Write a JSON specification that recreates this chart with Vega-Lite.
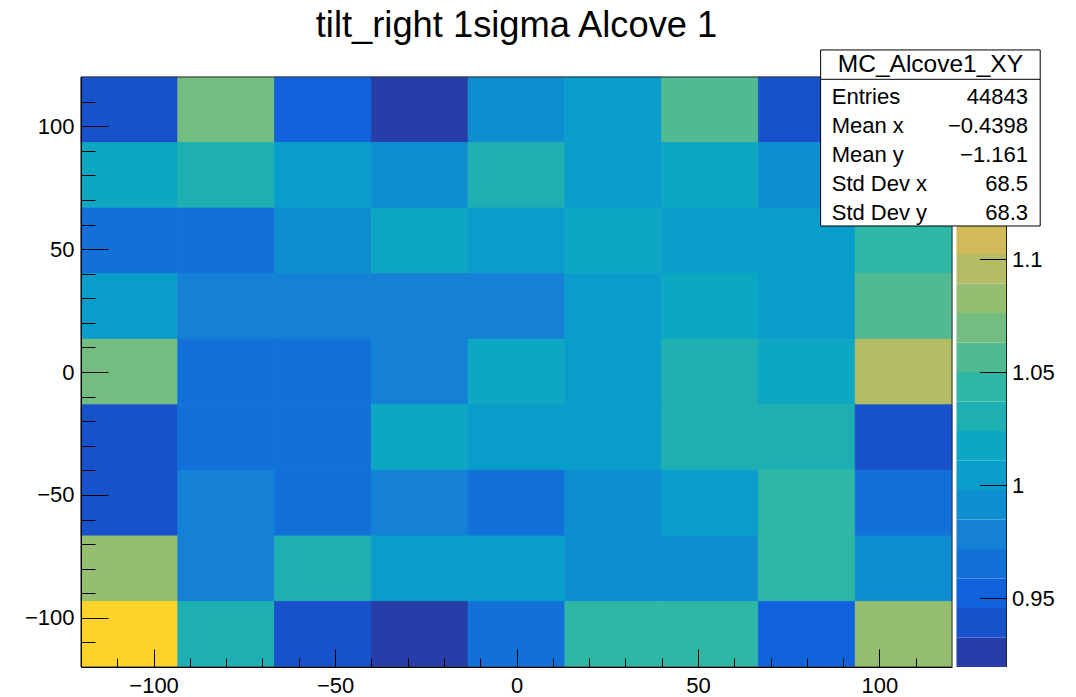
{
  "$schema": "https://vega.github.io/schema/vega-lite/v6.json",
  "width": 871,
  "height": 590,
  "autosize": {"type": "none"},
  "padding": {"left": 81, "top": 77, "right": 124, "bottom": 30},
  "background": "white",
  "config": {
    "view": {"stroke": null},
    "font": "Liberation Sans",
    "axis": {"grid": false, "labelFont": "Liberation Sans", "labelFontSize": 22, "labelColor": "black", "tickColor": "black", "domainColor": "black", "tickWidth": 1, "domainWidth": 1, "labelFlush": false, "labelOverlap": false, "labelBound": false}
  },
  "title": {"text": "tilt_right 1sigma Alcove 1", "font": "Liberation Sans", "fontSize": 36.3, "fontWeight": "normal", "color": "black", "anchor": "middle", "frame": "group", "baseline": "alphabetic", "offset": 11, "dy": 35},
  "datasets": {
    "cells": [
      {"x0":-120,"x1":-93.33,"y0":93.33,"y1":120,"v":0.9391},
      {"x0":-93.33,"x1":-66.67,"y0":93.33,"y1":120,"v":1.0702},
      {"x0":-66.67,"x1":-40,"y0":93.33,"y1":120,"v":0.9512},
      {"x0":-40,"x1":-13.33,"y0":93.33,"y1":120,"v":0.9248},
      {"x0":-13.33,"x1":13.33,"y0":93.33,"y1":120,"v":0.9905},
      {"x0":13.33,"x1":40,"y0":93.33,"y1":120,"v":1.0061},
      {"x0":40,"x1":66.67,"y0":93.33,"y1":120,"v":1.0573},
      {"x0":66.67,"x1":93.33,"y0":93.33,"y1":120,"v":0.9378},
      {"x0":93.33,"x1":120,"y0":93.33,"y1":120,"v":1.1803},

      {"x0":-120,"x1":-93.33,"y0":66.67,"y1":93.33,"v":1.0168},
      {"x0":-93.33,"x1":-66.67,"y0":66.67,"y1":93.33,"v":1.0297},
      {"x0":-66.67,"x1":-40,"y0":66.67,"y1":93.33,"v":1.0035},
      {"x0":-40,"x1":-13.33,"y0":66.67,"y1":93.33,"v":0.9921},
      {"x0":-13.33,"x1":13.33,"y0":66.67,"y1":93.33,"v":1.0312},
      {"x0":13.33,"x1":40,"y0":66.67,"y1":93.33,"v":1.0049},
      {"x0":40,"x1":66.67,"y0":66.67,"y1":93.33,"v":1.0183},
      {"x0":66.67,"x1":93.33,"y0":66.67,"y1":93.33,"v":0.9897},
      {"x0":93.33,"x1":120,"y0":66.67,"y1":93.33,"v":1.0588},

      {"x0":-120,"x1":-93.33,"y0":40,"y1":66.67,"v":0.9662},
      {"x0":-93.33,"x1":-66.67,"y0":40,"y1":66.67,"v":0.9641},
      {"x0":-66.67,"x1":-40,"y0":40,"y1":66.67,"v":0.9915},
      {"x0":-40,"x1":-13.33,"y0":40,"y1":66.67,"v":1.0192},
      {"x0":-13.33,"x1":13.33,"y0":40,"y1":66.67,"v":1.0027},
      {"x0":13.33,"x1":40,"y0":40,"y1":66.67,"v":1.0151},
      {"x0":40,"x1":66.67,"y0":40,"y1":66.67,"v":1.0073},
      {"x0":66.67,"x1":93.33,"y0":40,"y1":66.67,"v":1.0056},
      {"x0":93.33,"x1":120,"y0":40,"y1":66.67,"v":1.0452},

      {"x0":-120,"x1":-93.33,"y0":13.33,"y1":40,"v":1.0012},
      {"x0":-93.33,"x1":-66.67,"y0":13.33,"y1":40,"v":0.9776},
      {"x0":-66.67,"x1":-40,"y0":13.33,"y1":40,"v":0.9795},
      {"x0":-40,"x1":-13.33,"y0":13.33,"y1":40,"v":0.9769},
      {"x0":-13.33,"x1":13.33,"y0":13.33,"y1":40,"v":0.9801},
      {"x0":13.33,"x1":40,"y0":13.33,"y1":40,"v":1.0038},
      {"x0":40,"x1":66.67,"y0":13.33,"y1":40,"v":1.0177},
      {"x0":66.67,"x1":93.33,"y0":13.33,"y1":40,"v":1.0064},
      {"x0":93.33,"x1":120,"y0":13.33,"y1":40,"v":1.0552},

      {"x0":-120,"x1":-93.33,"y0":-13.33,"y1":13.33,"v":1.0683},
      {"x0":-93.33,"x1":-66.67,"y0":-13.33,"y1":13.33,"v":0.9637},
      {"x0":-66.67,"x1":-40,"y0":-13.33,"y1":13.33,"v":0.9658},
      {"x0":-40,"x1":-13.33,"y0":-13.33,"y1":13.33,"v":0.9787},
      {"x0":-13.33,"x1":13.33,"y0":-13.33,"y1":13.33,"v":1.0203},
      {"x0":13.33,"x1":40,"y0":-13.33,"y1":13.33,"v":1.0029},
      {"x0":40,"x1":66.67,"y0":-13.33,"y1":13.33,"v":1.0321},
      {"x0":66.67,"x1":93.33,"y0":-13.33,"y1":13.33,"v":1.0164},
      {"x0":93.33,"x1":120,"y0":-13.33,"y1":13.33,"v":1.0947},

      {"x0":-120,"x1":-93.33,"y0":-40,"y1":-13.33,"v":0.9402},
      {"x0":-93.33,"x1":-66.67,"y0":-40,"y1":-13.33,"v":0.9649},
      {"x0":-66.67,"x1":-40,"y0":-40,"y1":-13.33,"v":0.9671},
      {"x0":-40,"x1":-13.33,"y0":-40,"y1":-13.33,"v":1.0186},
      {"x0":-13.33,"x1":13.33,"y0":-40,"y1":-13.33,"v":1.0052},
      {"x0":13.33,"x1":40,"y0":-40,"y1":-13.33,"v":1.0018},
      {"x0":40,"x1":66.67,"y0":-40,"y1":-13.33,"v":1.0294},
      {"x0":66.67,"x1":93.33,"y0":-40,"y1":-13.33,"v":1.0336},
      {"x0":93.33,"x1":120,"y0":-40,"y1":-13.33,"v":0.9384},

      {"x0":-120,"x1":-93.33,"y0":-66.67,"y1":-40,"v":0.9371},
      {"x0":-93.33,"x1":-66.67,"y0":-66.67,"y1":-40,"v":0.9812},
      {"x0":-66.67,"x1":-40,"y0":-66.67,"y1":-40,"v":0.9665},
      {"x0":-40,"x1":-13.33,"y0":-66.67,"y1":-40,"v":0.9758},
      {"x0":-13.33,"x1":13.33,"y0":-66.67,"y1":-40,"v":0.9629},
      {"x0":13.33,"x1":40,"y0":-66.67,"y1":-40,"v":0.9936},
      {"x0":40,"x1":66.67,"y0":-66.67,"y1":-40,"v":1.0081},
      {"x0":66.67,"x1":93.33,"y0":-66.67,"y1":-40,"v":1.0447},
      {"x0":93.33,"x1":120,"y0":-66.67,"y1":-40,"v":0.9676},

      {"x0":-120,"x1":-93.33,"y0":-93.33,"y1":-66.67,"v":1.0834},
      {"x0":-93.33,"x1":-66.67,"y0":-93.33,"y1":-66.67,"v":0.9793},
      {"x0":-66.67,"x1":-40,"y0":-93.33,"y1":-66.67,"v":1.0289},
      {"x0":-40,"x1":-13.33,"y0":-93.33,"y1":-66.67,"v":1.0043},
      {"x0":-13.33,"x1":13.33,"y0":-93.33,"y1":-66.67,"v":1.0069},
      {"x0":13.33,"x1":40,"y0":-93.33,"y1":-66.67,"v":0.9909},
      {"x0":40,"x1":66.67,"y0":-93.33,"y1":-66.67,"v":0.9928},
      {"x0":66.67,"x1":93.33,"y0":-93.33,"y1":-66.67,"v":1.0419},
      {"x0":93.33,"x1":120,"y0":-93.33,"y1":-66.67,"v":0.9893},

      {"x0":-120,"x1":-93.33,"y0":-120,"y1":-93.33,"v":1.1487},
      {"x0":-93.33,"x1":-66.67,"y0":-120,"y1":-93.33,"v":1.0305},
      {"x0":-66.67,"x1":-40,"y0":-120,"y1":-93.33,"v":0.9411},
      {"x0":-40,"x1":-13.33,"y0":-120,"y1":-93.33,"v":0.9197},
      {"x0":-13.33,"x1":13.33,"y0":-120,"y1":-93.33,"v":0.9648},
      {"x0":13.33,"x1":40,"y0":-120,"y1":-93.33,"v":1.0428},
      {"x0":40,"x1":66.67,"y0":-120,"y1":-93.33,"v":1.0462},
      {"x0":66.67,"x1":93.33,"y0":-120,"y1":-93.33,"v":0.9531},
      {"x0":93.33,"x1":120,"y0":-120,"y1":-93.33,"v":1.0818}
    ],
    "bands": [
      {"lo":0.9196,"hi":0.93265,"mid":0.9261},
      {"lo":0.93265,"hi":0.9457,"mid":0.9392},
      {"lo":0.9457,"hi":0.95875,"mid":0.9522},
      {"lo":0.95875,"hi":0.9718,"mid":0.9653},
      {"lo":0.9718,"hi":0.98485,"mid":0.9783},
      {"lo":0.98485,"hi":0.9979,"mid":0.9914},
      {"lo":0.9979,"hi":1.01095,"mid":1.0044},
      {"lo":1.01095,"hi":1.024,"mid":1.0175},
      {"lo":1.024,"hi":1.03705,"mid":1.0305},
      {"lo":1.03705,"hi":1.0501,"mid":1.0436},
      {"lo":1.0501,"hi":1.06315,"mid":1.0566},
      {"lo":1.06315,"hi":1.0762,"mid":1.0697},
      {"lo":1.0762,"hi":1.08925,"mid":1.0827},
      {"lo":1.08925,"hi":1.1023,"mid":1.0958},
      {"lo":1.1023,"hi":1.11535,"mid":1.1088},
      {"lo":1.11535,"hi":1.1284,"mid":1.1219},
      {"lo":1.1284,"hi":1.14145,"mid":1.1349},
      {"lo":1.14145,"hi":1.1545,"mid":1.148},
      {"lo":1.1545,"hi":1.16755,"mid":1.161},
      {"lo":1.16755,"hi":1.1806,"mid":1.1741}
    ],
    "stats": [
      {"stat":"Entries","val":"44843"},
      {"stat":"Mean x","val":"−0.4398"},
      {"stat":"Mean y","val":"−1.161"},
      {"stat":"Std Dev x","val":"68.5"},
      {"stat":"Std Dev y","val":"68.3"}
    ],
    "header": [{"name":"MC_Alcove1_XY"}]
  },
  "resolve": {"scale": {"y": "independent"}, "axis": {"x": "independent", "y": "independent"}},
  "layer": [
    {
      "data": {"name": "cells"},
      "mark": {"type": "rect", "strokeWidth": 0.8},
      "encoding": {
        "x": {"field": "x0", "type": "quantitative", "scale": {"domain": [-120, 120], "nice": false, "zero": false},
              "axis": {"orient": "bottom", "title": null, "values": [-100, -50, 0, 50, 100], "tickSize": -18, "labelPadding": 26, "zindex": 1}},
        "x2": {"field": "x1"},
        "y": {"field": "y0", "type": "quantitative", "scale": {"domain": [-120, 120], "nice": false, "zero": false},
              "axis": {"orient": "left", "title": null, "values": [-100, -50, 0, 50, 100], "tickSize": -27, "labelPadding": 34, "zindex": 1}},
        "y2": {"field": "y1"},
        "color": {"field": "v", "type": "quantitative", "legend": null,
                  "scale": {"type": "quantize", "domain": [0.9196, 1.1806], "range": ["#273da8","#1751cb","#1063dc","#1271d9","#1480d6","#0e8ed1","#099dcc","#0da7c3","#1eafb3","#2eb7a4","#52ba91","#74bd80","#96be71","#b4bd65","#d1bb59","#e3c04a","#f5c63a","#fdd32a","#fbe81c","#f9fb0e"]}},
        "stroke": {"field": "v", "type": "quantitative", "legend": null,
                  "scale": {"type": "quantize", "domain": [0.9196, 1.1806], "range": ["#273da8","#1751cb","#1063dc","#1271d9","#1480d6","#0e8ed1","#099dcc","#0da7c3","#1eafb3","#2eb7a4","#52ba91","#74bd80","#96be71","#b4bd65","#d1bb59","#e3c04a","#f5c63a","#fdd32a","#fbe81c","#f9fb0e"]}}
      }
    },
    {
      "data": {"values": [{}]},
      "mark": {"type": "rect", "fill": "transparent", "stroke": "#333", "strokeWidth": 1},
      "encoding": {
        "x": {"datum": -120, "type": "quantitative", "scale": {"domain": [-120, 120], "nice": false, "zero": false}, "axis": null},
        "x2": {"datum": 120},
        "y": {"datum": -120, "type": "quantitative", "scale": {"domain": [-120, 120], "nice": false, "zero": false}, "axis": null},
        "y2": {"datum": 120}
      }
    },
    {
      "data": {"name": "cells"},
      "mark": {"type": "point", "opacity": 0},
      "encoding": {
        "x": {"field": "x0", "type": "quantitative", "scale": {"domain": [-120, 120], "nice": false, "zero": false},
              "axis": {"orient": "bottom", "title": null, "values": [-110, -90, -80, -70, -60, -40, -30, -20, -10, 10, 20, 30, 40, 60, 70, 80, 90, 110], "tickSize": -9, "labels": false, "domain": false, "zindex": 1}},
        "y": {"field": "y0", "type": "quantitative", "scale": {"domain": [-120, 120], "nice": false, "zero": false},
              "axis": {"orient": "left", "title": null, "values": [-110, -90, -80, -70, -60, -40, -30, -20, -10, 10, 20, 30, 40, 60, 70, 80, 90, 110], "tickSize": -14, "labels": false, "domain": false, "zindex": 1}}
      }
    },
    {
      "data": {"name": "bands"},
      "mark": {"type": "rect", "strokeWidth": 0},
      "encoding": {
        "x": {"datum": 121.24, "type": "quantitative", "scale": {"domain": [-120, 120], "nice": false, "zero": false}, "axis": null},
        "x2": {"datum": 135.02},
        "y": {"field": "lo", "type": "quantitative", "scale": {"domain": [0.9196, 1.1806], "nice": false, "zero": false},
              "axis": {"orient": "right", "title": null, "offset": 54.5, "values": [0.95, 1, 1.05, 1.1], "format": "~g", "tickSize": -27, "labelPadding": 32, "domain": false, "zindex": 1}},
        "y2": {"field": "hi"},
        "color": {"field": "mid", "type": "quantitative", "legend": null,
                  "scale": {"type": "quantize", "domain": [0.9196, 1.1806], "range": ["#273da8","#1751cb","#1063dc","#1271d9","#1480d6","#0e8ed1","#099dcc","#0da7c3","#1eafb3","#2eb7a4","#52ba91","#74bd80","#96be71","#b4bd65","#d1bb59","#e3c04a","#f5c63a","#fdd32a","#fbe81c","#f9fb0e"]}}
      }
    },
    {
      "data": {"values": [{}]},
      "mark": {"type": "rule", "color": "#222", "strokeWidth": 1},
      "encoding": {
        "x": {"datum": 135.02, "type": "quantitative", "scale": {"domain": [-120, 120], "nice": false, "zero": false}, "axis": null},
        "y": {"datum": 0.9196, "type": "quantitative", "scale": {"domain": [0.9196, 1.1806], "nice": false, "zero": false}, "axis": null},
        "y2": {"datum": 1.1806}
      }
    },
    {
      "data": {"values": [{}]},
      "mark": {"type": "rect", "fill": "white", "stroke": "black", "strokeWidth": 1},
      "encoding": {
        "x": {"datum": 83.8, "type": "quantitative", "scale": {"domain": [-120, 120], "nice": false, "zero": false}, "axis": null},
        "x2": {"datum": 144.3},
        "y": {"datum": 59.4, "type": "quantitative", "scale": {"domain": [-120, 120], "nice": false, "zero": false}, "axis": null},
        "y2": {"datum": 131}
      }
    },
    {
      "data": {"values": [{}]},
      "mark": {"type": "rule", "color": "black", "strokeWidth": 1},
      "encoding": {
        "x": {"datum": 83.8, "type": "quantitative", "scale": {"domain": [-120, 120], "nice": false, "zero": false}, "axis": null},
        "x2": {"datum": 144.3},
        "y": {"datum": 119.06, "type": "quantitative", "scale": {"domain": [-120, 120], "nice": false, "zero": false}, "axis": null}
      }
    },
    {
      "data": {"name": "header"},
      "mark": {"type": "text", "font": "Liberation Sans", "fontSize": 24.5, "align": "center", "baseline": "middle", "color": "black"},
      "encoding": {
        "x": {"datum": 114.05, "type": "quantitative", "scale": {"domain": [-120, 120], "nice": false, "zero": false}, "axis": null},
        "y": {"datum": 125, "type": "quantitative", "scale": {"domain": [-120, 120], "nice": false, "zero": false}, "axis": null},
        "text": {"field": "name"}
      }
    },
    {
      "data": {"name": "stats"},
      "mark": {"type": "text", "font": "Liberation Sans", "fontSize": 22, "align": "left", "baseline": "middle", "color": "black"},
      "encoding": {
        "x": {"datum": 86.86, "type": "quantitative", "scale": {"domain": [-120, 120], "nice": false, "zero": false}, "axis": null},
        "y": {"field": "stat", "type": "nominal", "sort": null, "scale": {"type": "point", "domain": ["Entries", "Mean x", "Mean y", "Std Dev x", "Std Dev y"], "range": [20, 136], "padding": 0}, "axis": null},
        "text": {"field": "stat"}
      }
    },
    {
      "data": {"name": "stats"},
      "mark": {"type": "text", "font": "Liberation Sans", "fontSize": 22, "align": "right", "baseline": "middle", "color": "black"},
      "encoding": {
        "x": {"datum": 140.95, "type": "quantitative", "scale": {"domain": [-120, 120], "nice": false, "zero": false}, "axis": null},
        "y": {"field": "stat", "type": "nominal", "sort": null, "scale": {"type": "point", "domain": ["Entries", "Mean x", "Mean y", "Std Dev x", "Std Dev y"], "range": [20, 136], "padding": 0}, "axis": null},
        "text": {"field": "val"}
      }
    }
  ]
}
